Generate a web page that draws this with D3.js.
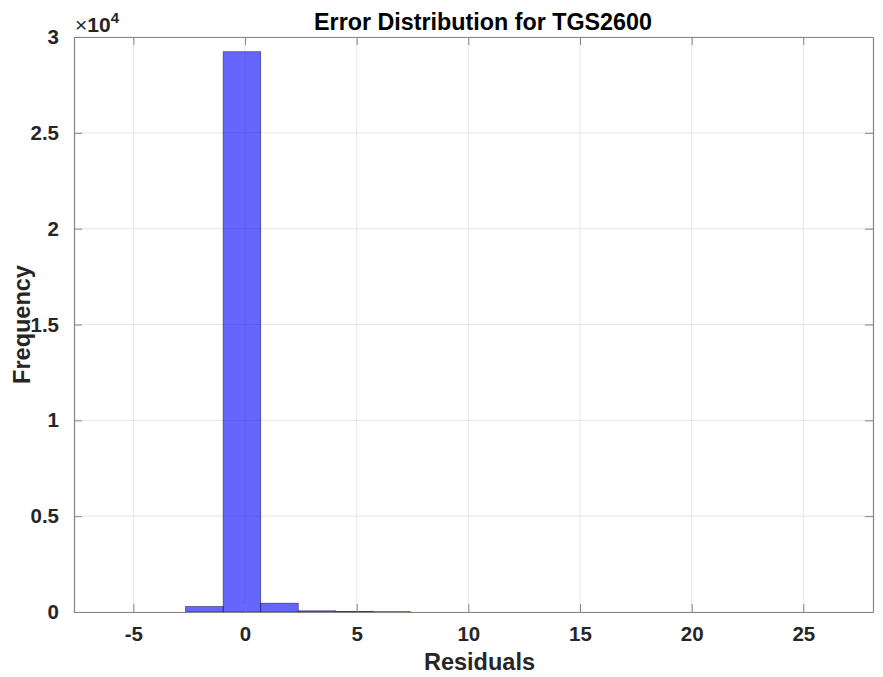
<!DOCTYPE html>
<html>
<head>
<meta charset="utf-8">
<script src="https://cdn.jsdelivr.net/npm/d3@7"></script>
<style>
  body { margin: 0; background: #fff; }
  text { font-family: "Liberation Sans", Arial, sans-serif; font-weight: bold; }
</style>
</head>
<body>
<div class="container"></div>
<script>
// histogram bins (bin width ~1.68)
var binEdges = [-2.66, -0.98, 0.70, 2.38, 4.06, 5.74, 7.42];
var binCounts = [282, 29230, 459, 60, 30, 15];

var xTicks = [-5, 0, 5, 10, 15, 20, 25];
var yTicks = [0, 5000, 10000, 15000, 20000, 25000, 30000];
var yTickLabels = ["0", "0.5", "1", "1.5", "2", "2.5", "3"];
var xLimits = [-7.66, 28.12];
var yLimits = [0, 30000];

var w = 883, h = 677;
var pLeft = 74, pRight = 873, pTop = 37, pBottom = 612;

var svg = d3.select(".container")
    .append("svg")
    .attr("width", w)
    .attr("height", h);

var x = d3.scaleLinear().domain(xLimits).range([pLeft, pRight]);
var y = d3.scaleLinear().domain(yLimits).range([pBottom, pTop]);

// grid
svg.append("g").selectAll("line")
    .data(xTicks)
    .enter().append("line")
    .attr("x1", function(d) { return x(d); })
    .attr("x2", function(d) { return x(d); })
    .attr("y1", pTop).attr("y2", pBottom)
    .attr("stroke", "#e6e6e6").attr("stroke-width", 1);

svg.append("g").selectAll("line")
    .data(yTicks)
    .enter().append("line")
    .attr("x1", pLeft).attr("x2", pRight)
    .attr("y1", function(d) { return y(d); })
    .attr("y2", function(d) { return y(d); })
    .attr("stroke", "#e6e6e6").attr("stroke-width", 1);

// bars
var bins = binCounts.map(function(c, i) {
    return { x0: binEdges[i], x1: binEdges[i + 1], n: c };
});

svg.append("g").selectAll("rect")
    .data(bins.filter(function(d) { return d.n > 0; }))
    .enter().append("rect")
    .attr("x", function(d) { return x(d.x0); })
    .attr("width", function(d) { return x(d.x1) - x(d.x0); })
    .attr("y", function(d) { return y(d.n); })
    .attr("height", function(d) { return y(0) - y(d.n); })
    .attr("fill", "#0000ff")
    .attr("fill-opacity", 0.6)
    .attr("stroke", "#1c1c5c")
    .attr("stroke-opacity", 0.8)
    .attr("stroke-width", 0.7);

// axes (MATLAB style: ticks inside, box on)
var tl = 8;
var axisColor = "#858585";
var xAxis = d3.axisBottom(x).tickValues(xTicks).tickSizeInner(-tl).tickSizeOuter(0)
    .tickFormat(function(d) { return String(d); });
var yAxis = d3.axisLeft(y).tickValues(yTicks).tickSizeInner(-tl).tickSizeOuter(0).tickPadding(15)
    .tickFormat(function(d, i) { return yTickLabels[i]; });

var gx = svg.append("g").attr("transform", "translate(0," + pBottom + ")").call(xAxis);
var gy = svg.append("g").attr("transform", "translate(" + pLeft + ",0)").call(yAxis);
var gxTop = svg.append("g").attr("transform", "translate(0," + pTop + ")")
    .call(d3.axisTop(x).tickValues(xTicks).tickSizeInner(-tl).tickSizeOuter(0).tickFormat(""));
var gyRight = svg.append("g").attr("transform", "translate(" + pRight + ",0)")
    .call(d3.axisRight(y).tickValues(yTicks).tickSizeInner(-tl).tickSizeOuter(0).tickFormat(""));

[gx, gy, gxTop, gyRight].forEach(function(g) {
    g.select(".domain").attr("stroke", axisColor).attr("stroke-width", 1.2);
    g.selectAll(".tick line").attr("stroke", axisColor);
    g.selectAll(".tick text")
        .attr("font-size", "20.5px")
        .attr("font-family", "Liberation Sans, Arial, sans-serif")
        .attr("font-weight", "bold")
        .attr("fill", "#262626");
});
gx.selectAll(".tick text").attr("dy", null).attr("y", 29);

// exponent label
var expo = svg.append("text")
    .attr("x", pLeft + 1)
    .attr("y", 32)
    .attr("font-size", "21px")
    .attr("fill", "#262626");
expo.append("tspan").text("\u00d7").attr("font-weight", "normal");
expo.append("tspan").text("10");
expo.append("tspan").text("4").attr("font-size", "15px").attr("dy", -9);

// title and axis labels
svg.append("text")
    .attr("x", 483)
    .attr("y", 30)
    .attr("text-anchor", "middle")
    .attr("font-size", "23.3px")
    .attr("fill", "#000")
    .text("Error Distribution for TGS2600");

svg.append("text")
    .attr("x", (pLeft + pRight) / 2 + 6)
    .attr("y", 670)
    .attr("text-anchor", "middle")
    .attr("font-size", "23.5px")
    .attr("fill", "#262626")
    .text("Residuals");

svg.append("text")
    .attr("transform", "translate(30," + (pTop + pBottom) / 2 + ")rotate(-90)")
    .attr("text-anchor", "middle")
    .attr("font-size", "23.5px")
    .attr("fill", "#262626")
    .text("Frequency");
</script>
</body>
</html>
